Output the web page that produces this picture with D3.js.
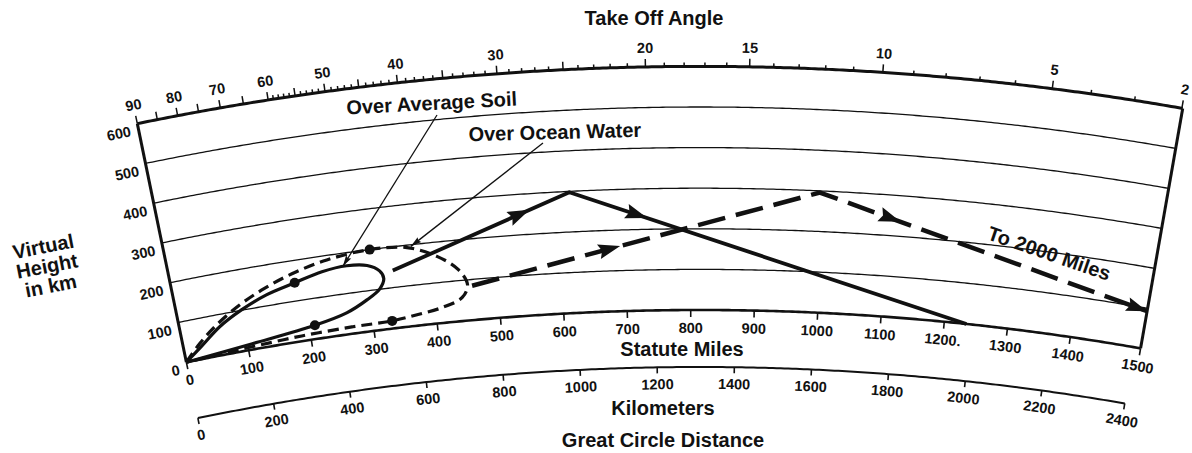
<!DOCTYPE html>
<html><head><meta charset="utf-8">
<script src="https://cdn.jsdelivr.net/npm/d3@7"></script>
<style>
body{margin:0;background:#fff}
svg{display:block}
text{font-family:"Liberation Sans",Arial,Helvetica,sans-serif;font-weight:bold;fill:#111}
</style></head>
<body><svg id="c" width="1192" height="453"></svg>
<script>
// ---------------- data ----------------
const mileTicks  = [0,100,200,300,400,500,600,700,800,900,1000,1100,1200,1300,1400,1500];
const mileLabels = ["0","100","200","300","400","500","600","700","800","900","1000","1100","1200.","1300","1400","1500"];
const kmTicks    = [0,200,400,600,800,1000,1200,1400,1600,1800,2000,2200,2400];
const kmLabels   = ["0","200","400","600","800","1000","1200","1400","1600","1800","2000","2200","2400"];
const heightTicks  = [0,100,200,300,400,500,600];
const heightLabels = ["0","100","200","300","400","500","600"];
const angleLabels  = [90,80,70,60,50,40,30,20,15,10,5,2];
// radiation lobes: [statute miles, virtual height km]
const soilLobe  = [[0,0],[29,32],[62,70],[100,101],[142,127],[188,145],[232,162],[271,168],[302,162],[320,145],[325,125],[317,101],[295,78],[261,53],[209,34],[106,14],[0,0]];
const oceanLobe = [[0,0],[26,38],[58,76],[99,114],[140,143],[186,168],[242,189],[309,200],[366,194],[411,164],[441,127],[453,88],[443,58],[410,38],[370,27],[330,19],[266,17],[186,13],[106,7],[49,3],[0,0]];
const lobeDots  = [[188,145],[309,200],[209,34],[330,19]];
// one-hop ray paths: [miles, km]
const soilRay  = [[0,0],[618,298],[1235,0]];
const oceanRay = [[0,0],[995,296],[2000,0]];
// annotation targets [miles, km]
const soilPointer  = [265,168];
const oceanPointer = [372,196];

// ---------------- geometry ----------------
const W = 1192, H = 453;
const CX = 700, CY = 2860, DEG = Math.PI/180;
const RE = 6371, TOPKM = 600, FIT = 0.985, KM_PER_MI = 1.609344;
const rScale = d3.scaleLinear().domain([0,600]).range([2550, 2550 + 600*0.406]);
const aScale = d3.scaleLinear().domain([0,1400,1500]).range([-11.62, 8.35, 9.95]); // degrees
function pt(mi, km, dr){ const a = aScale(mi)*DEG, r = rScale(km) + (dr||0); return [CX + r*Math.sin(a), CY - r*Math.cos(a)]; }
function takeoffMiles(b){ const br = b*DEG; const p = Math.asin(RE*Math.cos(br)/(RE+TOPKM)); return FIT*RE*(Math.PI/2 - br - p)/KM_PER_MI; }
const lerp = (a,b,t)=>[a[0]+(b[0]-a[0])*t, a[1]+(b[1]-a[1])*t];

const svg = d3.select("#c");
svg.append("rect").attr("width",W).attr("height",H).attr("fill","#fff");
const polar = svg.append("g").attr("transform",`translate(${CX},${CY})`);
const radial = d3.lineRadial().angle(d=>aScale(d[0])*DEG).radius(d=>rScale(d[1]) + (d[2]||0));
const INK = "#111";
const LBL = 14.5;

// height grid arcs
heightTicks.forEach(h=>{
  const pts = d3.range(0,1500.01,5).map(m=>[m,h]);
  polar.append("path").attr("d",radial(pts)).attr("fill","none").attr("stroke",INK)
    .attr("stroke-width", h===600 ? 3 : (h===0 ? 2.6 : 1.3));
});
// km arc
const KM_OFF = -57;
polar.append("path").attr("d",radial(d3.range(0,2400.01,10).map(k=>[k/KM_PER_MI,0,KM_OFF])))
  .attr("fill","none").attr("stroke",INK).attr("stroke-width",2);
// edges
[0,1500].forEach(m=>{
  const a = pt(m,0), b = pt(m,600);
  svg.append("line").attr("x1",a[0]).attr("y1",a[1]).attr("x2",b[0]).attr("y2",b[1]).attr("stroke",INK).attr("stroke-width",3);
});

// height labels
heightTicks.forEach((h,i)=>{
  const p = pt(0,h);
  svg.append("text").attr("transform",`translate(${p[0]},${p[1]}) rotate(${aScale(0)})`)
    .attr("x",-8).attr("y",6).attr("text-anchor","end").attr("dominant-baseline","central")
    .attr("font-size",LBL).text(heightLabels[i]);
});

// statute miles ticks + labels
mileTicks.forEach((m,i)=>{
  const a = pt(m,0), b = pt(m,0,-7), l = pt(m,0,-18);
  svg.append("line").attr("x1",a[0]).attr("y1",a[1]).attr("x2",b[0]).attr("y2",b[1]).attr("stroke",INK).attr("stroke-width",1.6);
  svg.append("text").attr("transform",`translate(${l[0]},${l[1]}) rotate(${aScale(m)})`)
    .attr("text-anchor","middle").attr("dominant-baseline","central").attr("font-size",LBL).text(mileLabels[i]);
});
// km ticks + labels
kmTicks.forEach((k,i)=>{
  const m = k/KM_PER_MI;
  const a = pt(m,0,KM_OFF), b = pt(m,0,KM_OFF-6), l = pt(m,0,KM_OFF-17);
  svg.append("line").attr("x1",a[0]).attr("y1",a[1]).attr("x2",b[0]).attr("y2",b[1]).attr("stroke",INK).attr("stroke-width",1.6);
  svg.append("text").attr("transform",`translate(${l[0]},${l[1]}) rotate(${aScale(m)})`)
    .attr("text-anchor","middle").attr("dominant-baseline","central").attr("font-size",LBL).text(kmLabels[i]);
});

// take-off angle ticks
const angleTicks = d3.range(90,60,-5).concat(d3.range(60,1,-1));
angleTicks.forEach(b=>{
  const m = takeoffMiles(b);
  const major = b%5===0 || b===2;
  const a = pt(m,600), c = pt(m,600, major?8:4);
  svg.append("line").attr("x1",a[0]).attr("y1",a[1]).attr("x2",c[0]).attr("y2",c[1]).attr("stroke",INK).attr("stroke-width",1.5);
});
angleLabels.forEach(b=>{
  const m = takeoffMiles(b);
  const l = pt(m,600,19);
  svg.append("text").attr("transform",`translate(${l[0]},${l[1]}) rotate(${aScale(m)})`)
    .attr("text-anchor","middle").attr("dominant-baseline","central").attr("font-size",LBL).text(b);
});

// ---------------- marks ----------------
const P = d=>pt(d[0],d[1]);
const curve = d3.line().curve(d3.curveCatmullRom.alpha(0.5));
svg.append("path").attr("d",curve(oceanLobe.map(P))).attr("fill","none").attr("stroke",INK)
  .attr("stroke-width",3.2).attr("stroke-dasharray","11,6");
svg.append("path").attr("d",curve(soilLobe.map(P))).attr("fill","none").attr("stroke",INK).attr("stroke-width",3.2);
lobeDots.forEach(d=>{ const p = P(d); svg.append("circle").attr("cx",p[0]).attr("cy",p[1]).attr("r",5).attr("fill",INK); });

function arrow(c, from, to, L, Wd, tipAt){
  const dx = to[0]-from[0], dy = to[1]-from[1], n = Math.hypot(dx,dy), ux = dx/n, uy = dy/n;
  const tip = tipAt ? c : [c[0]+ux*L/2, c[1]+uy*L/2];
  const base = [tip[0]-ux*L, tip[1]-uy*L];
  const pts = [tip,[base[0]-uy*Wd/2, base[1]+ux*Wd/2],[base[0]+ux*L*0.15, base[1]+uy*L*0.15],[base[0]+uy*Wd/2, base[1]-ux*Wd/2]];
  svg.append("path").attr("d","M"+pts.map(p=>p.join(",")).join("L")+"Z").attr("fill",INK);
}
const line = d3.line();
// soil ray
{
  const O = P(soilRay[0]), T = P(soilRay[1]), E = P(soilRay[2]);
  const S = lerp(O,T,0.539);
  svg.append("path").attr("d",line([S,T,E])).attr("fill","none").attr("stroke",INK).attr("stroke-width",3.8).attr("stroke-linejoin","miter");
  arrow(lerp(O,T,0.87),O,T,22,15);
  arrow(lerp(T,E,0.17),T,E,22,15);
}
// ocean ray
{
  const O = P(oceanRay[0]), T = P(oceanRay[1]), E = P(oceanRay[2]);
  const edgeA = aScale(1500)*DEG;
  let lo=0, hi=1;
  for(let k=0;k<50;k++){ const mid=(lo+hi)/2, q=lerp(T,E,mid); const a=Math.atan2(q[0]-CX, CY-q[1]); if(a<edgeA) lo=mid; else hi=mid; }
  const X = lerp(T,E,lo);
  const S = lerp(O,T,0.451);
  svg.append("path").attr("d",line([S,T,X])).attr("fill","none").attr("stroke",INK).attr("stroke-width",4.5).attr("stroke-dasharray","28,11");
  arrow(lerp(O,T,0.668),O,T,22,15);
  arrow(lerp(T,X,0.215),T,X,22,15);
  arrow(X,T,X,21,14,true);
}

// ---------------- annotations ----------------
function leader(from, target){
  const t = P(target);
  svg.append("line").attr("x1",from[0]).attr("y1",from[1]).attr("x2",t[0]).attr("y2",t[1]).attr("stroke",INK).attr("stroke-width",1.3);
  arrow(t, from, t, 11, 6, true);
}
leader([437,115], soilPointer);
leader([543,143], oceanPointer);

const T20 = (x,y,s,rot,anchor)=>svg.append("text").attr("transform",`translate(${x},${y}) rotate(${rot||0})`)
  .attr("text-anchor",anchor||"middle").attr("font-size",20).text(s);
T20(654,25,"Take Off Angle");
T20(432,110,"Over Average Soil",-3);
T20(555,139,"Over Ocean Water",-1.5);
T20(682,356,"Statute Miles");
T20(663,415,"Kilometers");
T20(663,447,"Great Circle Distance");
T20(1047,260,"To 2000 Miles",19);
const vh = svg.append("g").attr("transform","translate(47,266) rotate(-11)");
["Virtual","Height","in km"].forEach((s,i)=>vh.append("text").attr("y",(i-1)*20+7).attr("text-anchor","middle").attr("font-size",20).text(s));
</script></body></html>
